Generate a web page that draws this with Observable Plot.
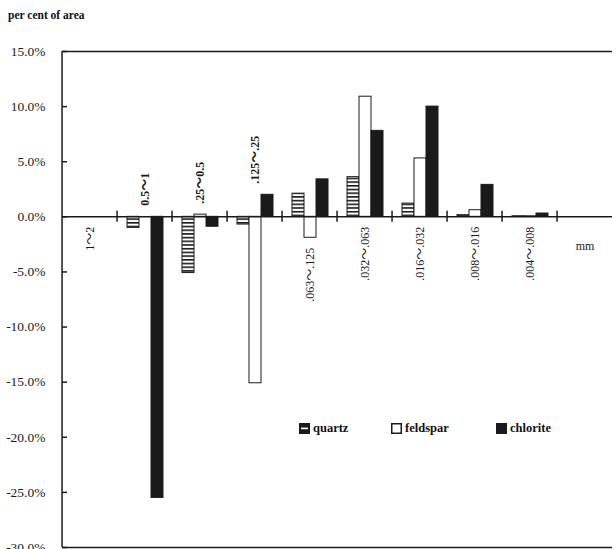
<!DOCTYPE html>
<html><head><meta charset="utf-8">
<script src="https://cdn.jsdelivr.net/npm/d3@7"></script>
<script src="https://cdn.jsdelivr.net/npm/@observablehq/plot@0.6"></script>
<style>
body{margin:0;background:#fff;font-family:"Liberation Serif","Noto Sans CJK SC",serif;color:#111;}
#wrap{position:relative;width:616px;height:549px;overflow:hidden;}
#title{position:absolute;left:8px;top:9px;font-weight:bold;font-size:11.5px;}
#legend{position:absolute;top:421px;left:299px;font-size:12.5px;font-weight:bold;}
#legend span.item{position:absolute;white-space:nowrap;display:flex;align-items:center;}
#legend svg{margin-right:3px;}
</style></head><body>
<div id="wrap"><div id="title">per cent of area</div><div id="chart"></div><div id="legend"></div></div>
<script>
const categories = ["1～2","0.5～1",".25～0.5",".125～.25",".063～.125",".032～.063",".016～.032",".008～.016",".004～.008"];
const unitLabel = "mm";
const minerals = ["quartz","feldspar","chlorite"];
const quartz   = [0, -1.0, -5.1, -0.7, 2.1, 3.6, 1.2, 0.15, 0.05];
const feldspar = [0,  0.0,  0.2, -15.1, -1.9, 10.9, 5.3, 0.6, 0.05];
const chlorite = [0, -25.5, -0.9, 2.0, 3.4, 7.8, 10.0, 2.9, 0.3];
const yTicks = [15, 10, 5, 0, -5, -10, -15, -20, -25, -30];

const series = {quartz, feldspar, chlorite};
const data = categories.flatMap((c, i) => minerals.map(m => ({category: c, mineral: m, value: series[m][i]})));
const labels = categories.map((c, i) => {
  const vals = minerals.map(m => series[m][i]);
  const above = Math.min(...vals) < -2;
  return {category: c, above, y: above ? Math.max(0, ...vals) : Math.min(0, ...vals)};
});

const W = 616, H = 549, ML = 57, MR = 0;
const fxDomain = [...categories, unitLabel];
const bandW = (W - ML - MR) / fxDomain.length;
const ink = "#1a1a1a";

const chart = Plot.plot({
  width: W, height: H,
  marginLeft: ML, marginRight: MR, marginTop: 51, marginBottom: 2,
  style: {fontFamily: "'Liberation Serif','Noto Sans CJK SC',serif", fontSize: "13px", background: "#fff", color: ink, overflow: "visible"},
  fx: {domain: fxDomain, padding: 0, axis: null, label: null},
  x: {domain: minerals, paddingInner: 0, paddingOuter: 0.77, axis: null},
  y: {domain: [-30, 15], axis: null},
  color: {domain: minerals, range: ["url(#qpat)", "#fff", ink]},
  marks: [
    Plot.barY(data.filter(d => d.value !== 0), {fx: "category", x: "mineral", y: "value", fill: "mineral", stroke: ink, strokeWidth: 1}),
    Plot.ruleY([0], {stroke: ink, strokeWidth: 1.5}),
    Plot.ruleY([15, -30], {stroke: ink, strokeWidth: 1.5}),
    Plot.ruleX([categories[0]], {fx: d => d, x: null, y1: -30, y2: 15, dx: -bandW / 2, stroke: ink, strokeWidth: 1.5}),
    Plot.ruleX(fxDomain.slice(1), {fx: d => d, x: null, y1: -0.5, y2: 0.5, dx: -bandW / 2, stroke: ink, strokeWidth: 1.5}),
    Plot.axisY({ticks: yTicks, tickFormat: d => d.toFixed(1) + "%", tickSize: -5, tickPadding: 22, stroke: ink, strokeWidth: 1.5, fontSize: 13.5}),
    Plot.text(labels.filter(d => d.above), {fx: "category", x: null, y: "y", text: "category", rotate: -90, textAnchor: "start", dy: -11, fontSize: 12, fontWeight: "bold", fill: ink}),
    Plot.text(labels.filter(d => !d.above), {fx: "category", x: null, y: "y", text: "category", rotate: -90, textAnchor: "end", dy: 10, fontSize: 12, fill: ink}),
    Plot.text([unitLabel], {fx: d => d, x: null, y: 0, text: d => d, dy: 29, fontSize: 12, fill: ink})
  ]
});

const svg = d3.select(chart);
const defs = svg.insert("defs", ":first-child");
const pat = defs.append("pattern").attr("id", "qpat").attr("patternUnits", "userSpaceOnUse").attr("width", 6).attr("height", 3.7);
pat.append("rect").attr("width", 6).attr("height", 3.7).attr("fill", "#fff");
pat.append("rect").attr("width", 6).attr("height", 1.6).attr("fill", ink);
document.getElementById("chart").appendChild(chart);

const legend = d3.select("#legend");
const offs = [0, 92, 197];
minerals.forEach((m, i) => {
  const item = legend.append("span").attr("class", "item").style("left", offs[i] + "px").style("top", "0px");
  const s = item.append("svg").attr("width", 11).attr("height", 11);
  if (m === "quartz") {
    s.append("rect").attr("x", 0.5).attr("y", 0.5).attr("width", 10).attr("height", 10).attr("fill", ink).attr("stroke", ink);
    s.append("rect").attr("x", 2).attr("y", 4.6).attr("width", 7).attr("height", 1.6).attr("fill", "#fff");
  } else if (m === "feldspar") {
    s.append("rect").attr("x", 0.75).attr("y", 0.75).attr("width", 9.5).attr("height", 9.5).attr("fill", "#fff").attr("stroke", ink).attr("stroke-width", 1.5);
  } else {
    s.append("rect").attr("x", 0).attr("y", 0).attr("width", 11).attr("height", 11).attr("fill", ink);
  }
  item.append("span").text(m);
});
</script>
</body></html>
